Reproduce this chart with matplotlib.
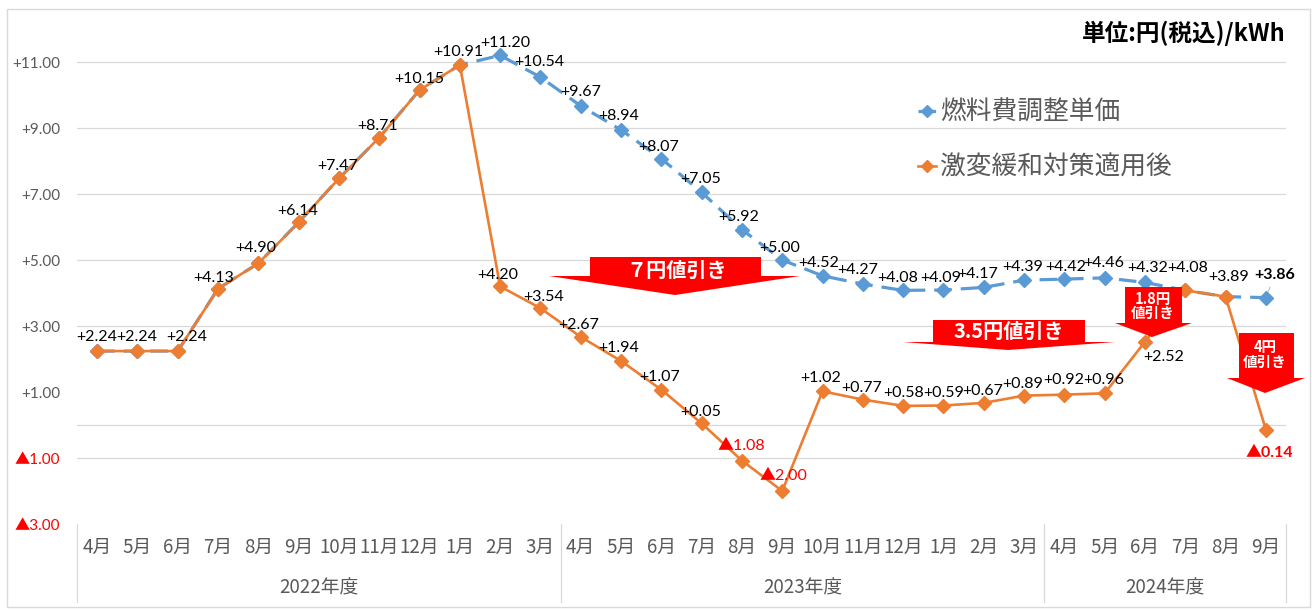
import numpy as np
import matplotlib
matplotlib.use('Agg')
import matplotlib.pyplot as plt
import matplotlib.transforms as mtransforms
from matplotlib.patches import Polygon, Rectangle
from matplotlib.font_manager import FontProperties

plt.rcParams['font.family'] = ['Lato', 'Noto Sans CJK JP', 'DejaVu Sans']

# ---- data ----
months = ['4月', '5月', '6月', '7月', '8月', '9月', '10月', '11月', '12月', '1月', '2月', '3月',
          '4月', '5月', '6月', '7月', '8月', '9月', '10月', '11月', '12月', '1月', '2月', '3月',
          '4月', '5月', '6月', '7月', '8月', '9月']
fiscal_years = ['2022年度', '2023年度', '2024年度']
months_per_year = [12, 12, 6]

fuel_adj = [2.24, 2.24, 2.24, 4.13, 4.90, 6.14, 7.47, 8.71, 10.15, 10.91, 11.20, 10.54,
            9.67, 8.94, 8.07, 7.05, 5.92, 5.00, 4.52, 4.27, 4.08, 4.09, 4.17, 4.39,
            4.42, 4.46, 4.32, 4.08, 3.89, 3.86]
after_relief = [2.24, 2.24, 2.24, 4.13, 4.90, 6.14, 7.47, 8.71, 10.15, 10.91, 4.20, 3.54,
                2.67, 1.94, 1.07, 0.05, -1.08, -2.00, 1.02, 0.77, 0.58, 0.59, 0.67, 0.89,
                0.92, 0.96, 2.52, 4.08, 3.89, -0.14]

y_ticks = [11, 9, 7, 5, 3, 1, -1, -3]
grid_values = [11, 9, 7, 5, 3, 0, -1]

series_names = ['燃料費調整単価', '激変緩和対策適用後']
unit_text = '単位:円(税込)/kWh'

# label offsets in pixels (dx, dy up), keyed by month index
orange_offsets = {0: (0, 14), 1: (-1, 14), 2: (9, 14), 3: (-4, 11), 4: (-3, 15), 5: (-1, 11),
                  6: (-1, 12), 7: (-2, 12), 8: (0, 11), 9: (-2, 13), 10: (-2, 11), 11: (3, 11),
                  12: (-2, 12), 13: (-2, 13), 14: (-2, 13), 15: (-1, 11), 16: (-1, 15),
                  17: (1, 15), 18: (-2, 13), 19: (-1, 12), 20: (0, 13), 21: (0, 13),
                  22: (-1, 12), 23: (-1, 12), 24: (-1, 15), 25: (-1, 13), 26: (19, -15),
                  29: (3, -23)}
blue_offsets = {10: (5, 12), 11: (-1, 15), 12: (0, 14), 13: (-2, 14), 14: (-3, 12), 15: (-1, 13),
                16: (-3, 13), 17: (-3, 12), 18: (-4, 13), 19: (-5, 14), 20: (-5, 12),
                21: (-3, 12), 22: (-6, 13), 23: (-1, 13), 24: (1, 12), 25: (-1, 15),
                26: (3, 14), 27: (2, 22), 28: (3, 20), 29: (9, 23)}

BLUE = '#5B9BD5'
ORANGE = '#ED7D31'
GRID = '#d9d9d9'
GRAY_TXT = '#595959'
RED = '#FF0000'

W, H = 1312, 610


def fig_xy(x, y):
    return (x / W, 1 - y / H)


fig = plt.figure(figsize=(W / 100, H / 100), dpi=100)
fig.add_artist(Rectangle(fig_xy(7, 607), (1310 - 7) / W, (607 - 9) / H,
                         transform=fig.transFigure, fill=False, ec=GRID, lw=1))

ax = fig.add_axes([77 / W, 1 - 524 / H, (1286 - 77) / W, (524 - 12.5) / H])
x = np.arange(len(months))

l1, = ax.plot(x, fuel_adj, color=BLUE, lw=2.3, ls=(0, (5.5, 2.8)), marker='D', ms=7.5,
              zorder=3, label=series_names[0])
l2, = ax.plot(x, after_relief, color=ORANGE, lw=1.9, marker='D', ms=7.5,
              zorder=4, label=series_names[1])

ax.set_xlim(-0.5, len(months) - 0.5)
ax.set_ylim(-3, 12.5)
for g in grid_values:
    ax.axhline(g, color=GRID, lw=0.9, zorder=0)
for s in ax.spines.values():
    s.set_visible(False)


def fmt(v):
    return f'+{v:.2f}' if v >= 0 else f'▲{-v:.2f}'


ax.set_yticks(y_ticks)
ax.set_yticklabels([fmt(v) for v in y_ticks], fontsize=11)
for lab, v in zip(ax.get_yticklabels(), y_ticks):
    lab.set_color(RED if v < 0 else GRAY_TXT)
ax.tick_params(axis='y', length=0, pad=12)

ax.set_xticks(x)
ax.set_xticklabels(months, family='Noto Sans CJK JP', fontsize=13.5, color=GRAY_TXT)
ax.tick_params(axis='x', length=0, pad=9)

# fiscal year groups
trans = mtransforms.blended_transform_factory(ax.transData, ax.transAxes)
bounds = np.concatenate([[0], np.cumsum(months_per_year)])
for b in bounds:
    ax.plot([b - 0.5, b - 0.5], [0, -78 / 511.5], transform=trans, color=GRID, lw=0.9,
            clip_on=False)
for name, start, n in zip(fiscal_years, bounds[:-1], months_per_year):
    ax.text(start + n / 2 - 0.5, -(588 - 524) / 511.5, name, transform=trans, ha='center',
            va='center', family='Noto Sans CJK JP', fontsize=13.5, color=GRAY_TXT)


# data labels
def put_labels(values, offsets):
    for i, (dx, dy) in offsets.items():
        v = values[i]
        bold = i == len(values) - 1
        kw = {}
        if (dx, dy) in [(19, -15), (9, 23)]:
            kw['arrowprops'] = dict(arrowstyle='-', color='#a6a6a6', lw=0.6, shrinkA=2, shrinkB=5)
        ax.annotate(fmt(v), (i, v), xytext=(dx * 0.72, dy * 0.72), textcoords='offset points',
                    ha='center', va='center', fontsize=11.5, color=RED if v < 0 else 'black',
                    fontweight='bold' if bold else 'normal', zorder=5, **kw)


put_labels(fuel_adj, blue_offsets)
put_labels(after_relief, orange_offsets)


# red discount arrows (figure pixel coordinates)
def red_arrow(x0, x1, ytop, ybase, hx0, hx1, tip):
    pts = [(x0, ytop), (x1, ytop), (x1, ybase), (hx1, ybase), tip, (hx0, ybase), (x0, ybase)]
    fig.add_artist(Polygon([fig_xy(*p) for p in pts], closed=True, transform=fig.transFigure,
                           fc=RED, ec='none', zorder=6))


def arrow_text(px, py, s, size):
    fig.text(*fig_xy(px, py), s, ha='center', va='center', color='white', fontweight='bold',
             family='Noto Sans CJK JP', fontsize=size, zorder=7)


red_arrow(590, 761, 257, 276, 549, 800, (675, 295))
arrow_text(677, 270, '７円値引き', 14.5)
red_arrow(933, 1085, 320, 342, 903, 1115, (1008, 350))
arrow_text(1009, 331, '3.5円値引き', 14.5)
red_arrow(1125, 1182, 287, 323, 1115, 1192, (1152, 337))
arrow_text(1153, 299, '1.8円', 10.5)
arrow_text(1153, 313, '値引き', 10.5)
red_arrow(1239, 1294, 333, 378, 1227, 1305, (1265, 393))
arrow_text(1265, 347, '4円', 10.5)
arrow_text(1265, 362, '値引き', 10.5)

fig.text(*fig_xy(1286, 33), unit_text, ha='right', va='center', fontsize=17,
         fontweight='bold', family='Noto Sans CJK JP')

fig.legend([l1, l2], series_names, loc='upper left', bbox_to_anchor=fig_xy(918, 100),
           frameon=False, prop=FontProperties(family='Noto Sans CJK JP', size=18.5),
           labelcolor=GRAY_TXT, handlelength=0.7, handletextpad=0.15, labelspacing=1.13,
           borderpad=0, borderaxespad=0, markerscale=0.8)

fig.savefig('out.png', dpi=100)
